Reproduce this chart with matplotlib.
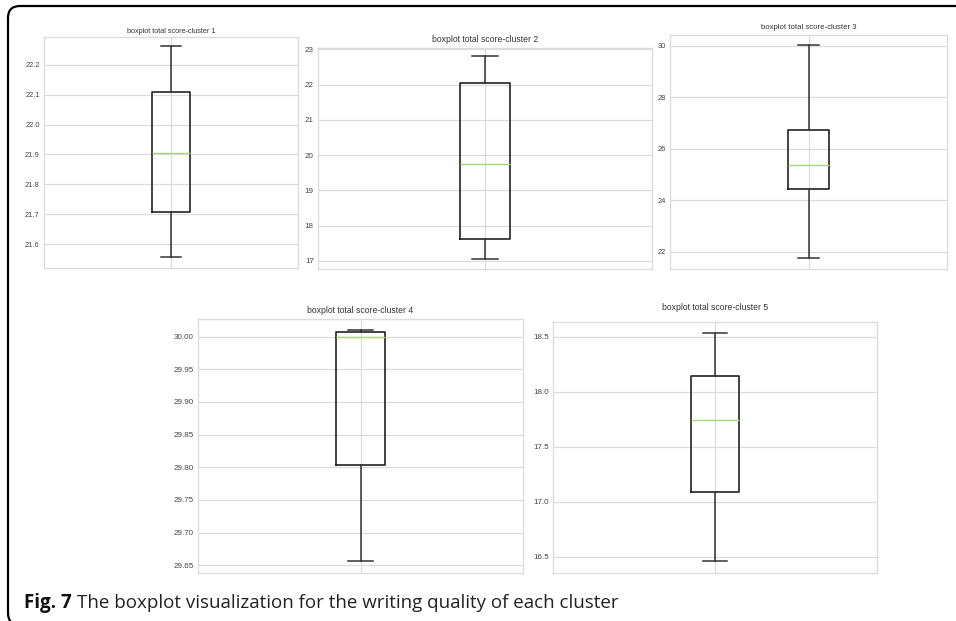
import matplotlib
matplotlib.use("Agg")
import matplotlib.pyplot as plt
from matplotlib.ticker import MultipleLocator, ScalarFormatter
from matplotlib.patches import FancyBboxPatch

# box statistics, one entry per cluster
clusters = ["1", "2", "3", "4", "5"]
whislo = [21.556, 17.06, 21.77, 29.656, 16.455]
q1 = [21.706, 17.62, 24.45, 29.804, 17.09]
med = [21.906, 19.74, 25.37, 30.000, 17.74]
q3 = [22.110, 22.05, 26.72, 30.007, 18.139]
whishi = [22.263, 22.80, 30.02, 30.010, 18.536]

# panel layout in pixels (left, right, top, bottom), y measured from the top
W, H = 956, 621
boxes_px = [(44, 298, 37, 268), (318, 652, 48, 269), (670, 947, 35, 269),
            (198, 523, 319, 573), (553, 877, 322, 573)]
ylims = [(21.52, 22.293), (16.77, 23.04), (21.34, 30.41), (29.638, 30.027), (16.35, 18.632)]
steps = [0.1, 1, 2, 0.05, 0.5]
title_sizes = [5.2, 6.2, 5.6, 6.2, 6.2]
title_pads = [3, 4, 4, 4, 9]
tick_sizes = [5.4, 5.8, 5.4, 5.8, 5.8]

sans = ["Liberation Sans", "DejaVu Sans"]
grid_c = "#dcdcdc"
median_c = "#a8d57e"

fig = plt.figure(figsize=(W / 100, H / 100), dpi=100)

for i, name in enumerate(clusters):
    l, r, t, b = boxes_px[i]
    ax = fig.add_axes([l / W, 1 - b / H, (r - l) / W, (b - t) / H])
    stats = [{"whislo": whislo[i], "q1": q1[i], "med": med[i], "q3": q3[i],
              "whishi": whishi[i], "fliers": []}]
    ax.bxp(stats, positions=[1], widths=0.15,
           boxprops=dict(color="#222222", linewidth=1.2),
           whiskerprops=dict(color="#333333", linewidth=1.1),
           capprops=dict(color="#333333", linewidth=1.1),
           medianprops=dict(color=median_c, linewidth=1.0))
    ax.set_xlim(0.5, 1.5)
    ax.set_ylim(*ylims[i])
    ax.yaxis.set_major_locator(MultipleLocator(steps[i]))
    ax.yaxis.set_major_formatter(ScalarFormatter(useOffset=False))
    ax.set_xticks([1])
    ax.set_xticklabels([])
    ax.grid(True, color=grid_c, linewidth=0.9)
    ax.set_axisbelow(True)
    for s in ax.spines.values():
        s.set_color(grid_c)
        s.set_linewidth(1.0)
    ax.tick_params(length=0, pad=3, labelsize=tick_sizes[i], labelcolor="#444444")
    for lab in ax.get_yticklabels():
        lab.set_family(sans)
    ax.set_title("boxplot total score-cluster " + name, fontsize=title_sizes[i],
                 color="#333333", pad=title_pads[i], family=sans)

# caption
cap_y = 1 - 608 / H
cap1 = fig.text(24 / W, cap_y, "Fig. 7", fontsize=13.5, fontweight="bold",
                color="#111111", family=["Open Sans", "DejaVu Sans"], va="baseline")
fig.canvas.draw()
bb = cap1.get_window_extent()
fig.text((bb.x1 + 5) / W, cap_y, "The boxplot visualization for the writing quality of each cluster",
         fontsize=13.5, color="#222222", family=["Open Sans", "DejaVu Sans"], va="baseline")

# rounded frame around the figure
frame = FancyBboxPatch((8, -4), 970, (H - 6) + 4,
                       boxstyle="round,pad=0,rounding_size=12",
                       transform=None, fill=False, edgecolor="black", linewidth=1.6)
fig.add_artist(frame)

fig.savefig("out.png", dpi=100)
